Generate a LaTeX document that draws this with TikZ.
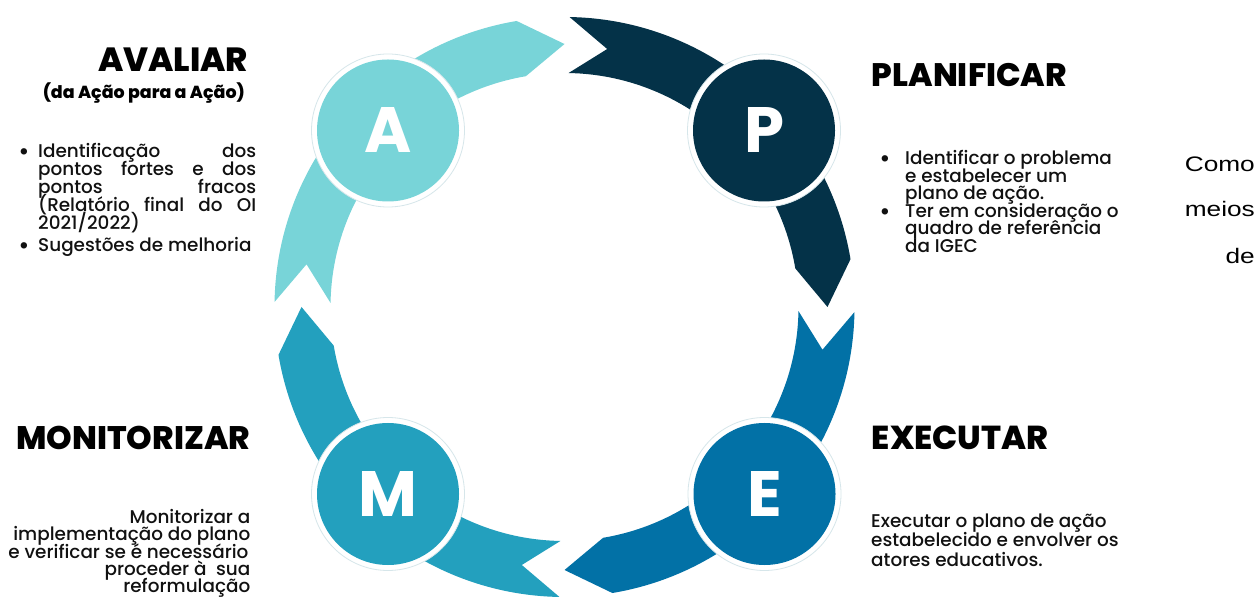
\documentclass[tikz,border=0pt]{standalone}
\usepackage{fontspec}
\usepackage{graphicx}
\setmainfont{Poppins}
\newfontfamily\heavyfont{Poppins}[UprightFont={* ExtraBold}]
\newfontfamily\mediumfont{Poppins}[UprightFont={* Medium}]
\newfontfamily\arialfont{Liberation Sans}
\definecolor{cA}{HTML}{78D4D8}
\definecolor{cP}{HTML}{043248}
\definecolor{cE}{HTML}{0271A6}
\definecolor{cM}{HTML}{23A0BE}
\definecolor{ink}{HTML}{111111}
\definecolor{halo}{HTML}{D6E6EA}
\newcommand\ringarrow[2]{%
  \fill[#1] (#2-1:290) arc[start angle=#2-1, end angle=#2-80.5, radius=290]
    -- (#2-90:263) -- (#2-80.5:234)
    arc[start angle=#2-80.5, end angle=#2-1, radius=234]
    -- (#2-9.4:261.5) -- cycle;}
\begin{document}
\begin{tikzpicture}[x=1pt,y=1pt,
  haloc/.style={circle, fill=white, draw=halo, line width=0.8pt, minimum size=153pt, inner sep=0pt},
  disc/.style={circle, minimum size=142pt, inner sep=0pt, text=white, font=\bfseries},
  ttl/.style={inner sep=0pt, text=black, font=\heavyfont},
  txt/.style={inner sep=0pt, text=ink, font=\mediumfont\fontsize{18.4}{17.5}\selectfont},
  bul/.style={inner sep=0pt, text=ink, font=\fontsize{26}{26}\selectfont, anchor=base},
  side/.style={inner sep=0pt, text=black, font=\arialfont\fontsize{21}{21}\selectfont, anchor=base east}]
\useasboundingbox (0,0) rectangle (1257,605);
\fill[white] (0,0) rectangle (1257,605);
% ring arrows
\begin{scope}[shift={(564.5,298)}]
  \ringarrow{cA}{180}
  \ringarrow{cP}{90}
  \ringarrow{cE}{0}
  \ringarrow{cM}{-90}
\end{scope}
% circles
\node[haloc] (hA) at (388,474.5) {};
\node[haloc] (hP) at (764,474.5) {};
\node[haloc] (hM) at (388,111) {};
\node[haloc] (hE) at (764.5,111) {};
\node[disc, fill=cA] (A) at (hA) {\resizebox{!}{45pt}{A}};
\node[disc, fill=cP] (P) at (hP) {\resizebox{!}{45pt}{P}};
\node[disc, fill=cM] (M) at (hM) {\resizebox{!}{45pt}{M}};
\node[disc, fill=cE] (E) at (hE) {\resizebox{!}{45pt}{E}};
% titles
\node[ttl, anchor=base east] (tA) at (248.3,533.3) {\resizebox{150pt}{!}{AVALIAR}};
\node[ttl, anchor=base east] (tA2) at (245,506.7) {\resizebox{202pt}{!}{(da Ação para a Ação)}};
\node[ttl, anchor=base west] (tP) at (871.7,518.3) {\resizebox{195pt}{!}{PLANIFICAR}};
\node[ttl, anchor=base west] (tM) at (16,155.7) {\resizebox{234pt}{!}{MONITORIZAR}};
\node[ttl, anchor=base west] (tE) at (871.7,155.7) {\resizebox{176.6pt}{!}{EXECUTAR}};
% A block
\node[bul] (bA1) at (24,444.5) {•};
\node[bul] (bA2) at (24,350.5) {•};
\node[txt, anchor=base west] (a1) at (38,447.5) {\makebox[218pt][s]{Identificação dos}};
\node[txt, anchor=base west] (a2) at (38,429.5) {\makebox[218pt][s]{pontos fortes e dos}};
\node[txt, anchor=base west] (a3) at (38,411.5) {\makebox[218pt][s]{pontos fracos}};
\node[txt, anchor=base west] (a4) at (38,393.5) {\makebox[218pt][s]{(Relatório final do OI}};
\node[txt, anchor=base west] (a5) at (38,375.5) {2021/2022)};
\node[txt, anchor=base west] (a6) at (38,353.5) {Sugestões de melhoria};
% P block
\node[bul] (bP1) at (885,437) {•};
\node[bul] (bP2) at (885,384.5) {•};
\node[txt, anchor=base west] (p1) at (905,440) {Identificar o problema};
\node[txt, anchor=base west] (p2) at (905,422.5) {e estabelecer um};
\node[txt, anchor=base west] (p3) at (905,405) {plano de ação.};
\node[txt, anchor=base west] (p4) at (905,387.5) {Ter em consideração o};
\node[txt, anchor=base west] (p5) at (905,370) {quadro de referência};
\node[txt, anchor=base west] (p6) at (905,352.5) {da IGEC};
% M block
\node[txt, anchor=base east] (m1) at (250.5,81.7) {Monitorizar a};
\node[txt, anchor=base east] (m2) at (250.5,64.3) {implementação do plano};
\node[txt, anchor=base west] (m3) at (8.3,46.9) {e verificar se é necessário};
\node[txt, anchor=base east] (m4) at (250.5,29.5) {proceder à\ \ sua};
\node[txt, anchor=base east] (m5) at (250.5,12.1) {reformulação};
% E block
\node[txt, anchor=base west] (e1) at (871,78) {Executar o plano de ação};
\node[txt, anchor=base west] (e2) at (871,58.5) {estabelecido e envolver os};
\node[txt, anchor=base west] (e3) at (871,39) {atores educativos.};
% right side fragments
\node[side] (s1) at (1255,433.3) {\scalebox{1.25}[1]{Como}};
\node[side] (s2) at (1255,388.3) {\scalebox{1.25}[1]{meios}};
\node[side] (s3) at (1255,341.7) {\scalebox{1.25}[1]{de}};
\end{tikzpicture}
\end{document}
